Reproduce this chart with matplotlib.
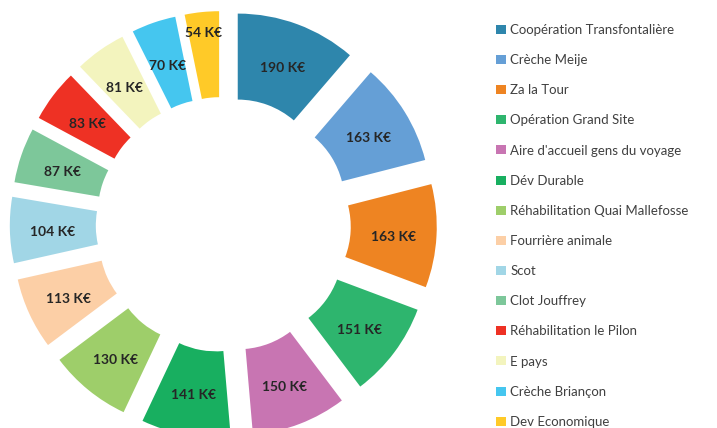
import numpy as np
import matplotlib
matplotlib.use('Agg')
import matplotlib.pyplot as plt
from matplotlib.patches import Patch

# --- données ---
categories = ['Coopération Transfontalière', 'Crèche Meije', 'Za la Tour',
              'Opération Grand Site', "Aire d'accueil gens du voyage", 'Dév Durable',
              'Réhabilitation Quai Mallefosse', 'Fourrière animale', 'Scot',
              'Clot Jouffrey', 'Réhabilitation le Pilon', 'E pays',
              'Crèche Briançon', 'Dev Economique']
values = [190, 163, 163, 151, 150, 141, 130, 113, 104, 87, 83, 81, 70, 54]
colors = ['#2E86AC', '#659FD6', '#EE8422', '#2EB56E', '#C875B2', '#18AF60',
          '#9ECE6A', '#FCCFA6', '#A1D6E6', '#7DC79A', '#EE3124', '#F3F4BE',
          '#45C6EF', '#FFCA28']

plt.rcParams['font.family'] = ['Lato', 'DejaVu Sans']

W, H, DPI = 717, 428, 100
fig = plt.figure(figsize=(W / DPI, H / DPI), dpi=DPI)

# axes = toute la figure, unités en pixels (le donut déborde en bas)
ax = fig.add_axes([0, 0, 1, 1])

cx, cy = 223.3, H - 224.5   # centre du donut
R = 172                     # rayon extérieur
ring = 86                   # épaisseur de l'anneau
d = 41.5                    # décalage des parts (éclaté), en pixels

wedges, _ = ax.pie(values, colors=colors, startangle=90, counterclock=False,
                   center=(cx, cy), radius=R, explode=[d] * len(values),
                   wedgeprops=dict(width=ring, edgecolor='none'))
ax.set_xlim(0, W)
ax.set_ylim(0, H)
ax.set_aspect('auto')
ax.axis('off')

# étiquettes
label_r = np.full(len(values), d + R - ring / 2)
label_r[-1] = 195
for w, v, r in zip(wedges, values, label_r):
    ang = np.deg2rad((w.theta1 + w.theta2) / 2)
    ax.text(cx + r * np.cos(ang), cy + r * np.sin(ang) - 3, f'{v} K€', ha='center', va='center',
            fontsize=10, fontweight='bold', color='#262626')

# --- légende ---
handles = [Patch(facecolor=c, edgecolor='none') for c in colors]
fig.legend(handles, categories, loc='upper left', bbox_to_anchor=(496 / W, 1 - 24 / H),
           frameon=False, fontsize=9.5, labelcolor='#404040',
           handlelength=0.72, handleheight=0.68, handletextpad=0.35,
           labelspacing=1.375, borderaxespad=0, borderpad=0)

fig.savefig('out.png', dpi=DPI)
